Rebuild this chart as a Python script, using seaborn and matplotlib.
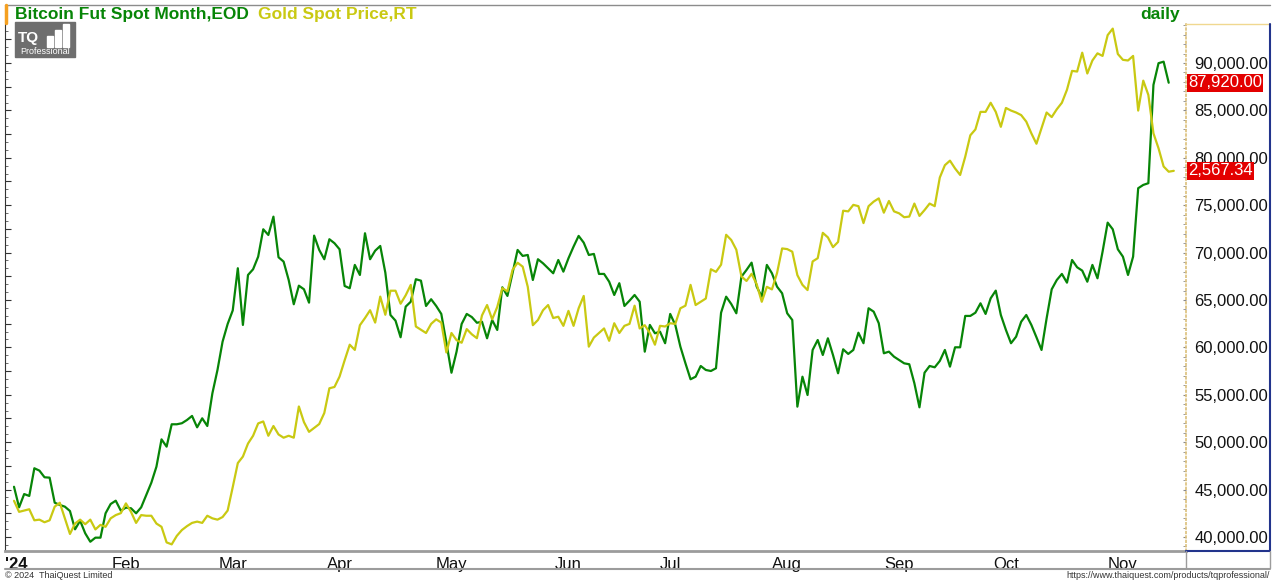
import numpy as np
import pandas as pd
import matplotlib
matplotlib.use("Agg")
import matplotlib.pyplot as plt
import seaborn as sns
from matplotlib.ticker import MultipleLocator, FuncFormatter
from matplotlib.patches import Rectangle

# daily closes, one per weekday starting 2 Jan 2024
btc_close = [
    45300, 43130, 44530, 44330, 47250, 47000, 46300, 46260, 43620, 43380,
    43200, 42740, 40810, 41720, 40390, 39500, 39930, 39930, 42500, 43480,
    43830, 42780, 43100, 43030, 42500, 43130, 44430, 45730, 47420, 50300,
    49530, 51890, 51890, 52000, 52340, 52770, 51570, 52520, 51710, 55160,
    57620, 60600, 62470, 63900, 68350, 62370, 67640, 68240, 69570, 72460,
    71860, 73790, 69510, 69050, 67110, 64550, 66510, 66130, 64720, 71790,
    70280, 69300, 71410, 70990, 70350, 66480, 66240, 68700, 67640, 72040,
    69300, 70200, 70700, 67880, 63420, 62820, 61070, 64300, 64820, 67190,
    67040, 64370, 65080, 64370, 63530, 60500, 57330, 59550, 62470, 63530,
    63200, 62600, 62710, 60960, 62890, 61840, 66340, 65430, 67820, 70280,
    69650, 69750, 67110, 69300, 68870, 68350, 67820, 69220, 67990, 69400,
    70630, 71760, 71050, 69750, 69860, 67750, 67750, 66930, 65530, 66770,
    64370, 64930, 65530, 64820, 59550, 62370, 61490, 61660, 60440, 63530,
    62370, 60080, 58320, 56640, 56910, 58040, 57620, 57510, 57800, 63660,
    65350, 64580, 63600, 67460, 68170, 68940, 66410, 65350, 68700, 67820,
    66410, 65710, 63600, 62890, 53750, 56910, 54980, 59730, 60780, 59200,
    60960, 59200, 57270, 59800, 59310, 59730, 61550, 60440, 64130, 63770,
    62550, 59380, 59550, 59020, 58670, 58320, 58220, 56220, 53680, 57330,
    58040, 57900, 58570, 59730, 57970,
    60010, 60010, 63320, 63320, 63660, 64650, 63530, 65180, 65990, 63420,
    61840, 60440, 61130, 62710, 63420, 62370, 61070, 59730, 63070, 66130,
    67110, 67750, 66830, 69220, 68450, 68100, 66930, 68700, 67290, 70100,
    73160, 72460, 70350, 69570, 67640, 69570, 76790, 77140, 77320, 87690,
    89980, 90140, 87920,
]

gold_spot = [
    2060, 2043, 2045, 2047, 2030, 2031, 2027, 2030, 2051, 2057,
    2033, 2009, 2025, 2031, 2024, 2031, 2016, 2023, 2020, 2033,
    2038, 2041, 2056, 2043, 2026, 2038, 2037, 2037, 2025, 2020,
    1996, 1993, 2006, 2015, 2021, 2026, 2028, 2026, 2037, 2033,
    2031, 2035, 2045, 2081, 2118,
    2128, 2148, 2160, 2179, 2182, 2160, 2175, 2162, 2157, 2160,
    2157, 2205, 2181, 2166, 2172, 2178, 2195,
    2233, 2235, 2251, 2276, 2300, 2292, 2330, 2341, 2353, 2334,
    2374, 2346, 2383, 2383, 2363, 2376, 2392, 2328, 2323, 2318,
    2332, 2339, 2334, 2288, 2318, 2307, 2303, 2324,
    2316, 2310,
    2345, 2361, 2339, 2358, 2387, 2382, 2415, 2426, 2420, 2389,
    2330, 2338, 2353, 2361, 2341, 2343, 2329, 2352, 2329, 2356,
    2375, 2297, 2311, 2318, 2325, 2306, 2333, 2318, 2329, 2332,
    2360, 2325, 2330, 2318, 2300, 2329, 2328, 2333, 2332, 2356,
    2360, 2392, 2361, 2366, 2371, 2416, 2412, 2423,
    2469, 2461, 2446, 2405, 2398, 2409, 2393, 2366, 2389, 2385,
    2410, 2448, 2447, 2443, 2407, 2392, 2384, 2428, 2433, 2472,
    2465, 2450, 2458, 2506, 2505, 2515, 2513, 2487, 2513, 2520,
    2525, 2503, 2521, 2505, 2502, 2496, 2497, 2517, 2498, 2507,
    2517, 2513, 2557, 2576, 2583,
    2571, 2561, 2589, 2622, 2631, 2658, 2658, 2672, 2658, 2635,
    2664, 2660, 2657, 2653, 2643, 2625, 2609, 2633, 2657, 2650,
    2662, 2672, 2692, 2721, 2720, 2749, 2717, 2737, 2748, 2744,
    2776, 2786, 2747, 2738, 2737, 2744, 2660, 2706, 2684, 2625,
    2602, 2574, 2566, 2567.34,
]

month_names = ["Feb", "Mar", "Apr", "May", "Jun", "Jul", "Aug", "Sep", "Oct", "Nov"]
year_label = "'24"

BTC_COLOR = "#078507"
GOLD_COLOR = "#c9c912"
W, H = 1272, 582


def build_frames():
    days = pd.bdate_range("2024-01-02", periods=len(gold_spot))
    gold = pd.DataFrame({"Date": days, "Price": gold_spot})
    gold["Bar"] = np.arange(len(gold))
    btc = pd.DataFrame({"Date": days[:len(btc_close)], "Price": btc_close})
    btc["Bar"] = np.arange(len(btc))
    # first bar of each month gets a tick
    month_pos = [int(gold.loc[gold["Date"].dt.month == m, "Bar"].iloc[0]) for m in range(2, 12)]
    return btc, gold, month_pos


def px_box(x0, y0, x1, y1):
    return [x0 / W, 1 - y1 / H, (x1 - x0) / W, (y1 - y0) / H]


def plot_chart(btc, gold, month_pos):
    sns.set_style("white")
    plt.rcParams["font.family"] = ["Liberation Sans", "DejaVu Sans"]

    fig = plt.figure(figsize=(W / 100, H / 100), dpi=100)
    ax = fig.add_axes(px_box(5, 24, 1186, 551))
    gx = ax.twinx()

    sns.lineplot(data=btc, x="Bar", y="Price", color=BTC_COLOR, lw=1.6,
                 estimator=None, ax=ax)
    ax.set_xlim(-1.77, 230.4)
    ax.set_ylim(38523, 94114)
    ax.set_xlabel("")
    ax.set_ylabel("")

    # gold on its own hidden scale
    sns.lineplot(data=gold, x="Bar", y="Price", color=GOLD_COLOR, lw=1.6,
                 estimator=None, ax=gx)
    gx.set_ylim(1982.8, 2793.1)
    gx.axis("off")

    # right price scale (twinx moved it left, so put it back)
    ax.yaxis.tick_right()
    ax.yaxis.set_major_locator(MultipleLocator(5000))
    ax.yaxis.set_minor_locator(MultipleLocator(1000))
    ax.yaxis.set_major_formatter(FuncFormatter(lambda v, p: f"{v:,.2f}"))
    ax.tick_params(axis="y", which="both", direction="in", length=2,
                   color="#8a8a8a", pad=6, labelsize=12, labelcolor="#111111",
                   left=False, labelleft=False, right=True, labelright=True)

    # month axis
    ax.set_xticks([ax.get_xlim()[0]] + month_pos)
    ax.set_xticklabels([year_label] + month_names)
    ax.tick_params(axis="x", direction="out", length=3, color="#9a9a9a",
                   pad=1.5, labelsize=12, labelcolor="#111111")
    first = ax.get_xticklabels()[0]
    first.set_ha("left")
    first.set_fontweight("bold")

    # small left-hand scale marks
    sec = ax.secondary_yaxis("left")
    sec.yaxis.set_major_locator(MultipleLocator(2500))
    sec.yaxis.set_minor_locator(MultipleLocator(5000 / 6))
    sec.tick_params(which="major", direction="in", length=4, color="#333333", labelleft=False)
    sec.tick_params(which="minor", direction="in", length=2, color="#555555")
    sec.spines["left"].set_color("#333333")

    ax.spines["top"].set_visible(False)
    ax.spines["left"].set_visible(False)
    ax.spines["bottom"].set_color("#9c9c9c")
    ax.spines["bottom"].set_linewidth(2)
    ax.spines["right"].set_color("#dcc07a")
    ax.spines["right"].set_linestyle(":")
    ax.spines["right"].set_linewidth(1.2)

    box = dict(boxstyle="square,pad=0.08", fc="#e30000", ec="none")
    ax.annotate(f"{btc_close[-1]:,.2f}", xy=(1, btc_close[-1]),
                xycoords=("axes fraction", "data"), xytext=(2, 0),
                textcoords="offset pixels", ha="left", va="center",
                color="white", fontsize=12, bbox=box, annotation_clip=False)
    gx.annotate(f"{gold_spot[-1]:,.2f}", xy=(1, gold_spot[-1]),
                xycoords=("axes fraction", "data"), xytext=(2, 0),
                textcoords="offset pixels", ha="left", va="center",
                color="white", fontsize=12, bbox=box, annotation_clip=False)

    # frame, header and footer
    ov = fig.add_axes([0, 0, 1, 1])
    ov.set_xlim(0, W)
    ov.set_ylim(H, 0)
    ov.axis("off")
    ov.patch.set_alpha(0)

    ov.plot([5, 1270], [4.5, 4.5], color="#8c8c8c", lw=1)
    ov.plot([5.5, 5.5], [5, 23], color="#f5a020", lw=2.5)
    ov.plot([1186, 1270], [24, 24], color="#f0d890", lw=1)
    ov.plot([1270, 1270], [24, 551], color="#22348c", lw=1.5)
    ov.plot([1186, 1270], [551, 551], color="#22348c", lw=1.5)
    ov.plot([5, 1270], [568.5, 568.5], color="#9c9c9c", lw=1.5)
    ov.plot([1186, 1186], [551, 568], color="#9c9c9c", lw=1)
    ov.plot([1270, 1270], [551, 568], color="#9c9c9c", lw=1)

    ov.text(15, 14, "Bitcoin Fut Spot Month,EOD", color=BTC_COLOR,
            fontweight="bold", fontsize=12.5, va="center")
    ov.text(258, 14, "Gold Spot Price,RT", color=GOLD_COLOR,
            fontweight="bold", fontsize=12.5, va="center")
    ov.text(1180, 14, "daily", color=BTC_COLOR, fontweight="bold",
            fontsize=12.5, va="center", ha="right")

    # TQ logo
    ov.add_patch(Rectangle((15, 22), 60, 35, color="#6e6e6e", zorder=5))
    ov.text(18, 38, "TQ", color="white", fontweight="bold", fontsize=11,
            va="center", zorder=6)
    for bx, by, bh in [(47, 36, 11), (55, 30, 17), (63, 24, 23)]:
        ov.add_patch(Rectangle((bx, by), 6, bh, color="white", zorder=6))
    ov.text(45, 51.5, "Professional", color="white", fontsize=6.5,
            va="center", ha="center", zorder=6)

    ov.text(5, 575, "\u00a9 2024  ThaiQuest Limited", fontsize=6.5,
            color="#333333", va="center")
    ov.text(1270, 575, "https://www.thaiquest.com/products/tqprofessional/",
            fontsize=6.5, color="#333333", va="center", ha="right")

    fig.savefig("out.png", dpi=100)


if __name__ == "__main__":
    btc, gold, month_pos = build_frames()
    plot_chart(btc, gold, month_pos)
